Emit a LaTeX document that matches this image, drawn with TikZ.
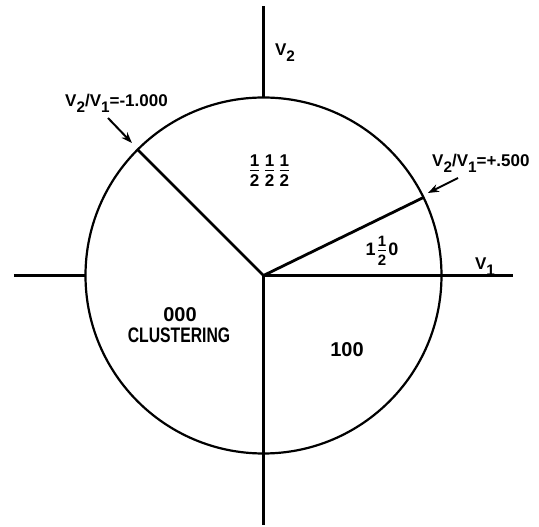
\documentclass[tikz,border=0pt]{standalone}
\usepackage{amsmath}
\usepackage{fontspec}
\usepackage{graphicx}
\setmainfont{Liberation Sans}
\usetikzlibrary{arrows.meta}
\newcommand\sbs[1]{\raisebox{-0.35em}{\scalebox{0.9}{#1}}}
\newcommand\hlf[1]{\ensuremath{\genfrac{}{}{1.5pt}{1}{\mbox{\fontsize{#1}{#1}\selectfont\rule[-1.5pt]{0pt}{0pt}1}}{\mbox{\fontsize{#1}{#1}\selectfont\rule{0pt}{0.83em}2}}}}
\begin{document}
\begin{tikzpicture}[x=1pt,y=1pt,
  axis/.style={line width=2.8pt},
  rim/.style={draw, circle, line width=2.2pt, minimum size=356pt, inner sep=0pt, outer sep=0pt},
  lbl/.style={font=\fontsize{17}{20}\selectfont\bfseries, inner sep=0pt},
  reg/.style={font=\fontsize{20}{24}\selectfont\bfseries, inner sep=0pt},
  arr/.style={line width=2pt, -{Stealth[length=11pt,width=8pt]}}]
\useasboundingbox (-263.5,-251.5) rectangle (275.5,275.5);
\coordinate (C) at (0,0);
\node[rim] (circ) at (C) {};
\coordinate (topend) at (0,269.5);
\coordinate (leftend) at (-249.5,0);
\coordinate (rightend) at (249.5,0);
\coordinate (botend) at (0,-249.5);
\draw[axis] (circ.north) -- (topend);
\draw[axis] (leftend) -- (circ.west);
\draw[axis] (C) -- (rightend);
\draw[axis] (C) -- (botend);
\draw[axis] (C) -- (circ.135);
\draw[axis] (C) -- (circ.26.565);
\node[lbl] (v2) at (21.5,223) {V\sbs{2}};
\node[lbl] (v1) at (221.5,8.5) {V\sbs{1}};
\node[lbl, anchor=west] (r1) at (-198.5,172) {V\sbs{2}/V\sbs{1}=-1.000};
\node[lbl, anchor=west] (r2) at (168.5,112) {V\sbs{2}/V\sbs{1}=+.500};
\coordinate (a1s) at (-155.5,157.5);
\coordinate (a1e) at (-131.5,132.5);
\draw[arr] (a1s) -- (a1e);
\coordinate (a2s) at (194.5,97.5);
\coordinate (a2e) at (164.5,82.5);
\draw[arr] (a2s) -- (a2e);
\node[reg] (hhh) at (6,104.5) {\hlf{17}\hspace{3pt}\hlf{17}\hspace{3pt}\hlf{17}};
\node[reg, font=\fontsize{18}{22}\selectfont\bfseries] (ohz) at (118.5,24.5) {1\hspace{1pt}\hlf{15}\hspace{1pt}0};
\node[reg] (c000) at (-83.5,-39.5) {000};
\node[reg, font=\fontsize{21}{24}\selectfont\bfseries] (clus) at (-84.5,-59.5) {\scalebox{0.75}[1]{CLUSTERING}};
\node[reg] (h100) at (83.5,-74.5) {100};
\end{tikzpicture}
\end{document}
